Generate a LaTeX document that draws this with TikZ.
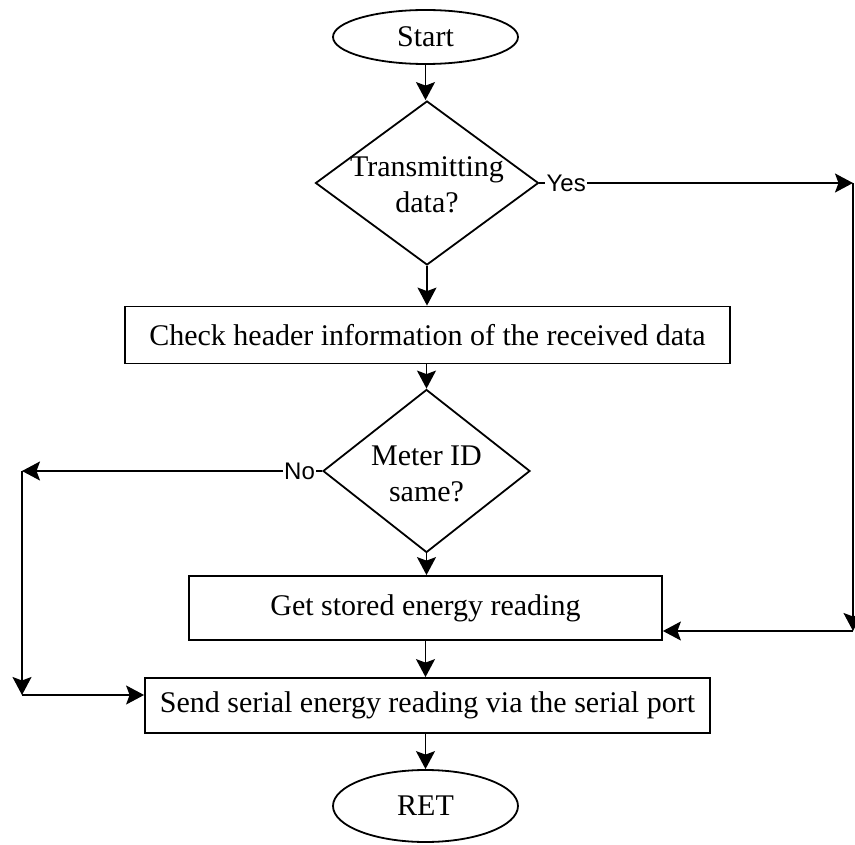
\documentclass[tikz,border=0pt]{standalone}
\usepackage{fontspec}
\setmainfont{Liberation Serif}
\newfontfamily\labelfont{Liberation Sans}
\usetikzlibrary{shapes.geometric,arrows.meta}
\tikzset{
  shapeline/.style={draw=black, line width=1.8pt, inner sep=0pt},
  term/.style={shapeline, ellipse},
  decision/.style={shapeline, diamond},
  procbox/.style={shapeline, rectangle},
  txt/.style={font=\fontsize{30}{36}\selectfont, align=center, inner sep=0pt},
  lbl/.style={font=\labelfont\fontsize{24}{28}\selectfont, inner sep=1pt},
  conn/.style={draw=black, line width=1.6pt},
  arr/.style={conn, -{Stealth[length=18pt,width=19pt,inset=3.5pt]}}
}
\begin{document}
\begin{tikzpicture}[x=1pt,y=-1pt]
\useasboundingbox[fill=white] (0,0) rectangle (855,845);

% shapes
\node[term, minimum width=185, minimum height=54, txt] (start) at (425.5,37) {Start};
\node[decision, minimum width=223, minimum height=164] (d1) at (427,183) {};
\node[txt] (d1t) at (427,185) {Transmitting\\data?};
\node[procbox, minimum width=605, minimum height=57, txt] (box1) at (427.5,335) {Check header information of the received data};
\node[decision, minimum width=207, minimum height=163] (d2) at (426.5,471) {};
\node[txt] (d2t) at (426.5,474) {Meter ID\\same?};
\node[procbox, minimum width=473, minimum height=64, txt] (box2) at (425.5,608) {Get stored energy reading};
\node[procbox, minimum width=565, minimum height=55, txt] (box3) at (427.5,705.5) {Send serial energy reading via the serial port};
\node[term, minimum width=185, minimum height=72, txt] (ret) at (425.5,806) {RET};

% main flow
\draw[arr] (start.south) -- (start.south |- d1.north);
\draw[arr] (d1.south) -- (d1.south |- box1.north);
\draw[arr] (box1.south -| d2.north) -- (d2.north);
\draw[arr] (d2.south) -- (d2.south |- box2.north);
\draw[arr] (box2.south) -- (box2.south |- box3.north);
\draw[arr] (box3.south -| ret.north) -- (ret.north);

% Yes branch
\node[lbl, anchor=west] (yes) at ([xshift=6pt]d1.east) {Yes};
\draw[conn] (d1.east) -- (yes.west);
\coordinate (c1) at (853,183);
\coordinate (c2) at (853,631);
\draw[arr] (yes.east) -- (c1);
\draw[arr] (c1) -- (c2);
\draw[arr] (c2) -- (box2.east |- c2);

% No branch
\node[lbl, anchor=east] (no) at ([xshift=-6pt]d2.west) {No};
\draw[conn] (d2.west) -- (no.east);
\coordinate (c3) at (22,471);
\coordinate (c4) at (22,695);
\draw[arr] (no.west) -- (c3);
\draw[arr] (c3) -- (c4);
\draw[arr] (c4) -- (box3.west |- c4);
\end{tikzpicture}
\end{document}
